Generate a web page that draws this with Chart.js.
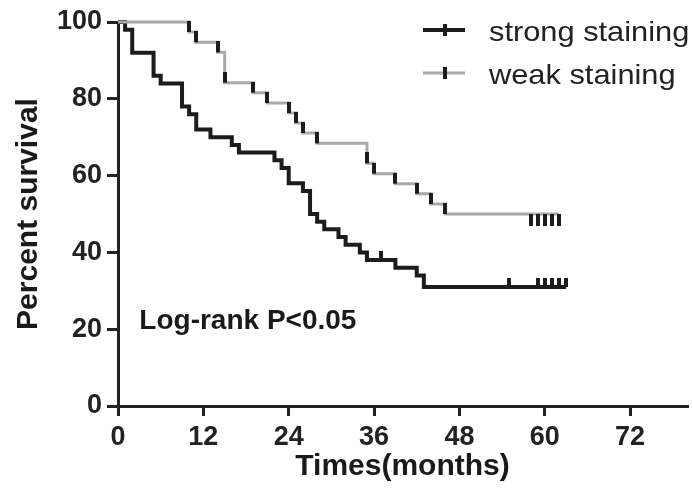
<!DOCTYPE html>
<html>
<head>
<meta charset="utf-8">
<script src="https://cdn.jsdelivr.net/npm/chart.js@4.4.1/dist/chart.umd.min.js"></script>
<style>
  html, body { margin: 0; padding: 0; background: #fff; }
  #wrap { width: 693px; height: 495px; }
</style>
</head>
<body>
<div id="wrap"><canvas id="km"></canvas></div>
<script>
// Kaplan-Meier data (months, percent survival)
const strongTimes = [0, 1, 2, 5, 6, 9, 10, 11, 13, 16, 17, 22, 23, 24, 26, 27, 28, 29, 31, 32, 34, 35, 39, 42, 43, 63];
const strongSurv  = [100, 98, 92, 86, 84, 78, 76, 72, 70, 68, 66, 64, 62, 58, 56, 50, 48, 46, 44, 42, 40, 38, 36, 34, 31, 31];
const strongCensored = [37, 55, 59, 60, 61, 62, 63];

const weakTimes = [0, 10, 11, 14, 15, 19, 21, 24, 25, 26, 28, 35, 36, 39, 42, 44, 46, 62];
const weakSurv  = [100, 97.4, 94.7, 92.1, 84.2, 81.6, 78.9, 76.3, 73.7, 71.1, 68.4, 63.2, 60.5, 57.9, 55.3, 52.6, 50, 50];
const weakCensoredAtDrop = [10, 11, 14, 15, 19, 21, 24, 25, 26, 28, 35, 36, 39, 42, 44, 46];
const weakCensoredEnd = [58, 59, 60, 61, 62];

const xTicks = [0, 12, 24, 36, 48, 60, 72];
const yTicks = [0, 20, 40, 60, 80, 100];

const BLACK = '#1c1c1c';
const GREY = '#a9a9a9';

function curve(times, surv) {
  return times.map((t, i) => ({x: t, y: surv[i]}));
}
function levelAt(times, surv, t) {
  let v = surv[0];
  for (let i = 0; i < times.length; i++) if (times[i] <= t) v = surv[i];
  return v;
}
function censorPoints(list, times, surv) {
  return list.map(t => ({x: t, y: levelAt(times, surv, t)}));
}
// vertical tick drawn above or below the point
function tickImg(up, len, w) {
  const c = document.createElement('canvas');
  c.width = w;
  c.height = len * 2;
  const g = c.getContext('2d');
  g.fillStyle = BLACK;
  g.fillRect(0, up ? 0 : len, w, len);
  return c;
}

const fontFam = "'Liberation Sans', Arial, sans-serif";

const overlay = {
  id: 'overlay',
  afterDraw(chart) {
    const c = chart.ctx;
    const xs = chart.scales.x, ys = chart.scales.y;
    c.save();
    // legend
    const items = [
      {label: 'strong staining', color: BLACK, width: 4, y: 30},
      {label: 'weak staining', color: GREY, width: 3, y: 73}
    ];
    items.forEach(it => {
      c.strokeStyle = it.color;
      c.lineWidth = it.width;
      c.beginPath();
      c.moveTo(423, it.y);
      c.lineTo(465, it.y);
      c.stroke();
      c.fillStyle = BLACK;
      c.fillRect(443, it.y - 6, 4, 12);
      c.save();
      c.translate(489, it.y + 3);
      c.scale(1.1, 1);
      c.font = '28px ' + fontFam;
      c.textBaseline = 'middle';
      c.textAlign = 'left';
      c.fillStyle = '#222';
      c.fillText(it.label, 0, 0);
      c.restore();
    });
    // annotation
    c.font = 'bold 28px ' + fontFam;
    c.textBaseline = 'alphabetic';
    c.fillStyle = '#1a1a1a';
    c.fillText('Log-rank P<0.05', xs.getPixelForValue(3), ys.getPixelForValue(20));
    c.restore();
  }
};

new Chart(document.getElementById('km'), {
  type: 'line',
  data: {
    datasets: [
      {
        label: 'strong ticks',
        type: 'scatter',
        data: censorPoints(strongCensored, strongTimes, strongSurv),
        pointStyle: tickImg(true, 9, 4),
        pointRadius: 5,
        showLine: false,
        order: 0,
        clip: false
      },
      {
        label: 'weak ticks',
        type: 'scatter',
        data: censorPoints(weakCensoredAtDrop, weakTimes, weakSurv),
        pointStyle: tickImg(true, 11, 4),
        pointRadius: 5,
        showLine: false,
        order: 0,
        clip: false
      },
      {
        label: 'weak end ticks',
        type: 'scatter',
        data: censorPoints(weakCensoredEnd, weakTimes, weakSurv),
        pointStyle: tickImg(false, 12, 4),
        pointRadius: 5,
        showLine: false,
        order: 0,
        clip: false
      },
      {
        label: 'weak staining',
        data: curve(weakTimes, weakSurv),
        borderColor: GREY,
        borderWidth: 3,
        stepped: true,
        pointRadius: 0,
        fill: false,
        order: 1,
        clip: false
      },
      {
        label: 'strong staining',
        data: curve(strongTimes, strongSurv),
        borderColor: BLACK,
        borderWidth: 4,
        stepped: true,
        pointRadius: 0,
        fill: false,
        order: 2,
        clip: false
      }
    ]
  },
  options: {
    responsive: true,
    maintainAspectRatio: false,
    animation: false,
    layout: { padding: {top: 22, right: 3, left: 0, bottom: 0} },
    plugins: { legend: {display: false}, tooltip: {enabled: false} },
    scales: {
      x: {
        type: 'linear',
        min: 0,
        max: 80,
        afterFit: s => { s.height = 89; },
        afterBuildTicks: s => { s.ticks = xTicks.map(v => ({value: v})); },
        border: {display: true, width: 3, color: '#222'},
        grid: {drawOnChartArea: false, drawTicks: true, tickLength: 10, lineWidth: 3, color: '#222'},
        ticks: {
          padding: 5,
          color: '#222',
          maxRotation: 0,
          font: {family: fontFam, size: 27, weight: 'bold'}
        },
        title: {
          display: true,
          text: 'Times(months)',
          color: '#1a1a1a',
          font: {family: fontFam, size: 30, weight: 'bold'},
          padding: {top: 0, bottom: 10}
        }
      },
      y: {
        type: 'linear',
        min: 0,
        max: 100,
        afterFit: s => { s.width = 118; },
        afterBuildTicks: s => { s.ticks = yTicks.map(v => ({value: v})); },
        border: {display: true, width: 3, color: '#222'},
        grid: {drawOnChartArea: false, drawTicks: true, tickLength: 11, lineWidth: 3, color: '#222'},
        ticks: {
          padding: 5,
          color: '#222',
          font: {family: fontFam, size: 27, weight: 'bold'}
        },
        title: {
          display: true,
          text: 'Percent survival',
          color: '#1a1a1a',
          font: {family: fontFam, size: 30, weight: 'bold'},
          padding: {top: 11, bottom: 0}
        }
      }
    }
  },
  plugins: [overlay]
});
</script>
</body>
</html>
